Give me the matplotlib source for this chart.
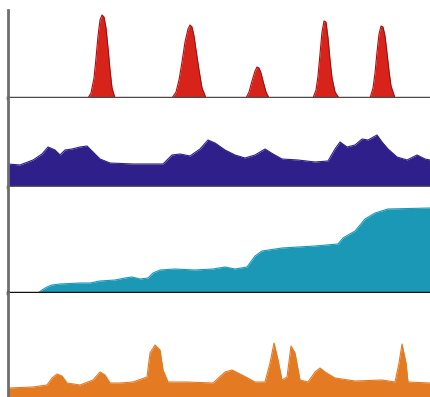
"""Четыре полосы-профиля друг под другом: пики, волнистый фон,
ступенчатый рост и редкие всплески. Значения сняты с картинки
(x — позиция по горизонтали, y — высота над базовой линией).
"""
import matplotlib
matplotlib.use("Agg")
import matplotlib.pyplot as plt

W, H = 430, 397

# --- данные -------------------------------------------------------------
red_x = [8, 88, 91, 94, 96, 98, 100, 102, 104, 106, 108, 110, 112, 115,
         172, 176, 179, 182, 185, 188, 190, 192, 194, 196, 199, 202, 206,
         246, 249, 252, 255, 257, 259, 261, 263, 266, 269,
         313, 316, 318, 320, 322, 324, 326, 328, 330, 332, 335, 339,
         370, 373, 375, 377, 379, 381, 383, 385, 387, 389, 391, 395, 430]
red_y = [0, 0, 5, 20, 40, 62, 78, 83, 81, 70, 50, 28, 10, 0,
         0, 6, 18, 36, 56, 69, 73, 71, 62, 48, 28, 10, 0,
         0, 6, 17, 27, 31, 30, 25, 17, 6, 0,
         0, 8, 22, 44, 66, 77, 76, 60, 38, 20, 6, 0,
         0, 10, 25, 46, 64, 72, 71, 62, 45, 27, 12, 0, 0]

navy_x = [8, 20, 33, 42, 48, 55, 60, 65, 72, 80, 87, 93, 100, 110, 133,
          163, 172, 180, 190, 200, 208, 215, 225, 235, 245, 255, 265, 273,
          282, 298, 315, 328, 335, 340, 347, 355, 362, 368, 377, 382, 388,
          397, 407, 417, 425, 430]
navy_y = [23, 22, 27, 33, 40, 37, 32, 37, 38, 40, 41, 35, 28, 24, 23,
          23, 32, 33, 31, 38, 47, 44, 37, 32, 29, 32, 38, 33,
          28, 27, 25, 26, 38, 45, 40, 42, 48, 47, 52, 45, 38,
          30, 27, 32, 28, 27]

teal_x = [8, 38, 42, 47, 52, 60, 80, 90, 100, 115, 125, 132, 140, 148,
          153, 160, 175, 195, 213, 225, 235, 247, 255, 262, 282, 315,
          338, 343, 355, 365, 375, 388, 430]
teal_y = [0, 0, 3, 6, 8, 9, 10, 10, 12, 13, 15, 16, 14, 15,
          20, 23, 24, 23, 24, 26, 24, 26, 37, 42, 45, 47,
          49, 55, 62, 74, 80, 84, 85]

orange_x = [8, 33, 47, 52, 57, 62, 67, 80, 93, 100, 105, 110, 120, 133,
            147, 150, 155, 160, 163, 168, 187, 213, 225, 232, 242, 255,
            265, 270, 274, 278, 282, 287, 291, 295, 300, 308, 315, 320,
            325, 335, 355, 382, 395, 399, 402, 406, 408, 430]
orange_y = [9, 10, 12, 19, 23, 21, 14, 12, 17, 25, 22, 14, 14, 15,
            20, 44, 52, 47, 27, 15, 15, 14, 25, 27, 22, 15,
            15, 34, 54, 37, 17, 20, 51, 44, 17, 15, 25, 29,
            25, 19, 16, 17, 15, 34, 53, 34, 15, 14]

# (top, bottom) в пикселях картинки, цвет заливки, цвет базовой линии
PANELS = [
    (red_x, red_y, 10, 98, "#d8231b", "#a51010", "#4a4a4a"),
    (navy_x, navy_y, 98, 187, "#2e1f8a", "#2e1f8a", "#5a5a5a"),
    (teal_x, teal_y, 187, 293, "#1a98b6", "#1a98b6", "#111111"),
    (orange_x, orange_y, 293, 397, "#e47a22", "#e47a22", None),
]


def draw():
    fig = plt.figure(figsize=(W / 100, H / 100), dpi=100)
    fig.patch.set_facecolor("white")
    for xs, ys, top, bottom, fill, edge, base in PANELS:
        ax = fig.add_axes([8 / W, (H - bottom) / H, (W - 8) / W, (bottom - top) / H])
        ax.fill_between(xs, ys, 0, color=fill, linewidth=0)
        ax.plot(xs, ys, color=edge, linewidth=0.8)
        ax.set_xlim(8, W)
        ax.set_ylim(0, bottom - top)
        ax.set_xticks([])
        ax.set_yticks([])
        for s in ("top", "right"):
            ax.spines[s].set_visible(False)
        ax.spines["left"].set_color("#6e6e6e")
        ax.spines["left"].set_linewidth(2)
        if base is None:
            ax.spines["bottom"].set_visible(False)
        else:
            ax.spines["bottom"].set_color(base)
            ax.spines["bottom"].set_linewidth(2.5)
            ax.spines["bottom"].set_zorder(5)
    fig.savefig("out.png", dpi=100, facecolor="white")
    plt.close(fig)


if __name__ == "__main__":
    draw()
